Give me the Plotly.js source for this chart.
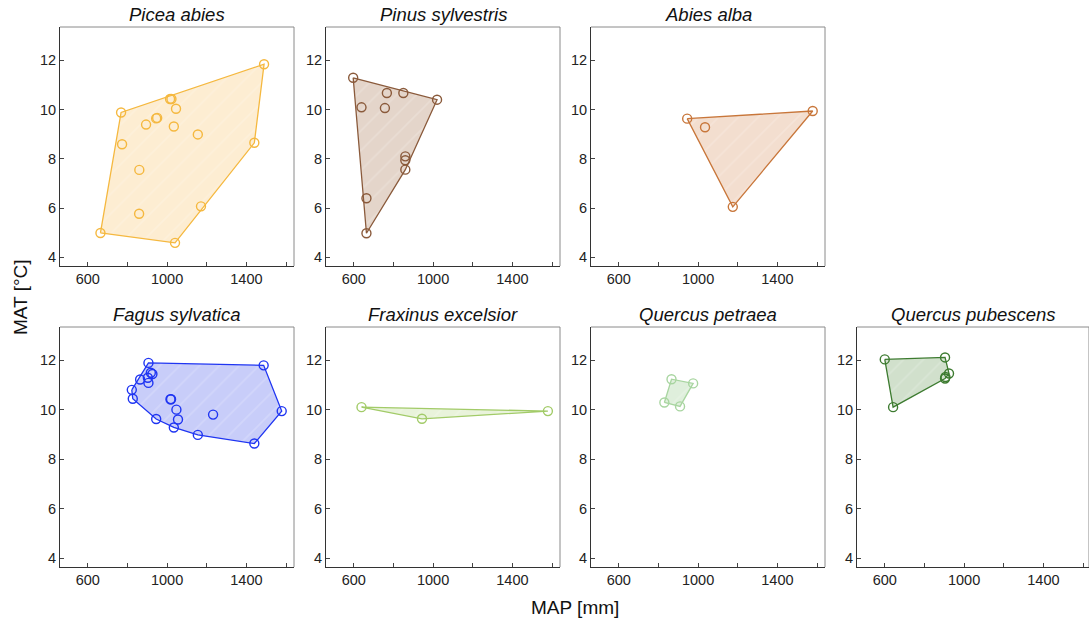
<!DOCTYPE html>
<html>
<head>
<meta charset="utf-8">
<script src="https://cdn.plot.ly/plotly-3.0.1.min.js"></script>
<style>html,body{margin:0;padding:0;background:#fff;}#chart{width:1089px;height:624px;}</style>
</head>
<body>
<div id="chart"></div>
<script>
// ---- Data (MAP in mm, MAT in °C) ----
const speciesNames = ["Picea abies","Pinus sylvestris","Abies alba","Fagus sylvatica","Fraxinus excelsior","Quercus petraea","Quercus pubescens"];

const piceaMAP = [1489,1015,1022,1045,768,945,950,894,1034,1155,773,1440,860,1171,859,664,1040];
const piceaMAT = [11.84,10.43,10.43,10.03,9.88,9.64,9.66,9.39,9.31,8.99,8.59,8.65,7.55,6.07,5.77,4.99,4.59];

const pinusMAP = [597,767,850,1020,639,757,860,860,860,664,664];
const pinusMAT = [11.29,10.67,10.67,10.40,10.09,10.06,8.10,7.94,7.56,6.40,4.98];

const abiesMAP = [945,1035,1578,1175];
const abiesMAT = [9.63,9.28,9.94,6.05];

const fagusMAP = [906,1487,918,926,864,903,906,822,827,1017,1020,1047,1578,1232,1055,945,1034,1155,1440];
const fagusMAT = [11.90,11.80,11.50,11.45,11.23,11.30,11.09,10.81,10.45,10.43,10.43,10.01,9.95,9.81,9.61,9.63,9.29,8.99,8.64];

const fraxinusMAP = [639,944,1579];
const fraxinusMAT = [10.11,9.64,9.95];

const qpetraeaMAP = [866,975,830,909];
const qpetraeaMAT = [11.24,11.07,10.30,10.14];

const qpubescensMAP = [600,904,924,904,906,642];
const qpubescensMAT = [12.04,12.12,11.47,11.27,11.33,10.11];

const xTickVals = [600,800,1000,1200,1400,1600];
const xTickText = ["600","","1000","","1400",""];
const yTickVals = [4,6,8,10,12];

const lineColors = ["#F5B83F","#8A5A3B","#C8763A","#1F35F2","#A2CB68","#A8D5A0","#3D7B30"];
const fillColors = ["#FDEDD2","#E4D5CA","#F3DECF","#C8CDF9","#E9F3DB","#DFEFDC","#D1E0CC"];

const allMAP = [piceaMAP,pinusMAP,abiesMAP,fagusMAP,fraxinusMAP,qpetraeaMAP,qpubescensMAP];
const allMAT = [piceaMAT,pinusMAT,abiesMAT,fagusMAT,fraxinusMAT,qpetraeaMAT,qpubescensMAT];

// ---- Convex hull (monotone chain) ----
function hull(xs, ys){
  const pts = xs.map((x,i)=>[x,ys[i]]).sort((a,b)=>a[0]-b[0]||a[1]-b[1]);
  const cross=(o,a,b)=>(a[0]-o[0])*(b[1]-o[1])-(a[1]-o[1])*(b[0]-o[0]);
  const lower=[],upper=[];
  for(const p of pts){while(lower.length>=2&&cross(lower[lower.length-2],lower[lower.length-1],p)<=0)lower.pop();lower.push(p);}
  for(let i=pts.length-1;i>=0;i--){const p=pts[i];while(upper.length>=2&&cross(upper[upper.length-2],upper[upper.length-1],p)<=0)upper.pop();upper.push(p);}
  upper.pop();lower.pop();
  const h=lower.concat(upper);h.push(h[0]);
  return h;
}

// ---- Layout geometry ----
const W=1089,H=624;
const colLeft=[60,326,591,857], panelW=234;
const rowTop=[27,327], rowBot=[266,567];
const slots=[[0,0],[0,1],[0,2],[1,0],[1,1],[1,2],[1,3]];

const traces=[], layout={
  width:W,height:H,margin:{l:0,r:0,t:0,b:0},
  paper_bgcolor:"#fff",plot_bgcolor:"#fff",showlegend:false,
  font:{family:"Liberation Sans, Arial, sans-serif",color:"#222"},
  annotations:[],shapes:[]
};

slots.forEach((s,i)=>{
  const [r,c]=s;
  const n=i+1;
  const xa = n===1?"x":"x"+n, ya = n===1?"y":"y"+n;
  const xk = n===1?"xaxis":"xaxis"+n, yk = n===1?"yaxis":"yaxis"+n;
  const x0=colLeft[c]/W, x1=Math.min(1,(colLeft[c]+panelW)/W);
  const pxRight=Math.min(W,colLeft[c]+panelW);
  const xmax=460+(pxRight-colLeft[c])/panelW*1180;
  layout[xk]={domain:[x0,x1],anchor:ya,range:[460,xmax],tickvals:xTickVals,ticktext:xTickText,
    ticks:"inside",ticklen:4,tickcolor:"#444",showline:true,linecolor:"#333",linewidth:1,
    showgrid:false,zeroline:false,tickfont:{size:14.5,color:"#222"},fixedrange:true};
  layout[yk]={domain:[1-rowBot[r]/H,1-rowTop[r]/H],anchor:xa,range:[3.65,13.35],tickvals:yTickVals,
    ticks:"inside",ticklen:4,tickcolor:"#444",showline:true,linecolor:"#333",linewidth:1,
    showgrid:false,zeroline:false,tickfont:{size:14.5,color:"#222"},fixedrange:true};
  layout.shapes.push({type:"line",xref:xa+" domain",yref:ya+" domain",x0:0,x1:1,y0:1,y1:1,line:{color:"#8a8a8a",width:1}});
  layout.shapes.push({type:"line",xref:xa+" domain",yref:ya+" domain",x0:1,x1:1,y0:0,y1:1,line:{color:"#8a8a8a",width:1}});
  layout.annotations.push({text:"<i>"+speciesNames[i]+"</i>",xref:xa+" domain",yref:ya+" domain",x:0.5,y:1,
    yanchor:"bottom",xanchor:"center",yshift:0,showarrow:false,font:{size:18.5,color:"#111"}});
  const h=hull(allMAP[i],allMAT[i]);
  traces.push({type:"scatter",mode:"lines",x:h.map(p=>p[0]),y:h.map(p=>p[1]),xaxis:xa,yaxis:ya,
    fill:"toself",fillcolor:fillColors[i],
    fillpattern:{shape:"/",bgcolor:fillColors[i],fgcolor:"rgba(255,255,255,0.18)",size:14,solidity:0.12},
    line:{color:lineColors[i],width:1.3},hoverinfo:"skip"});
  traces.push({type:"scatter",mode:"markers",x:allMAP[i],y:allMAT[i],xaxis:xa,yaxis:ya,
    marker:{symbol:"circle-open",size:9,color:lineColors[i],line:{width:1.4,color:lineColors[i]}}});
});

layout.annotations.push({text:"MAP [mm]",xref:"paper",yref:"paper",x:575/W,y:1-607/H,xanchor:"center",yanchor:"middle",
  showarrow:false,font:{size:19,color:"#111"}});
layout.annotations.push({text:"MAT [°C]",xref:"paper",yref:"paper",x:20/W,y:1-297/H,xanchor:"center",yanchor:"middle",
  textangle:-90,showarrow:false,font:{size:19,color:"#111"}});

Plotly.newPlot("chart",traces,layout,{displayModeBar:false,staticPlot:true});
</script>
</body>
</html>
